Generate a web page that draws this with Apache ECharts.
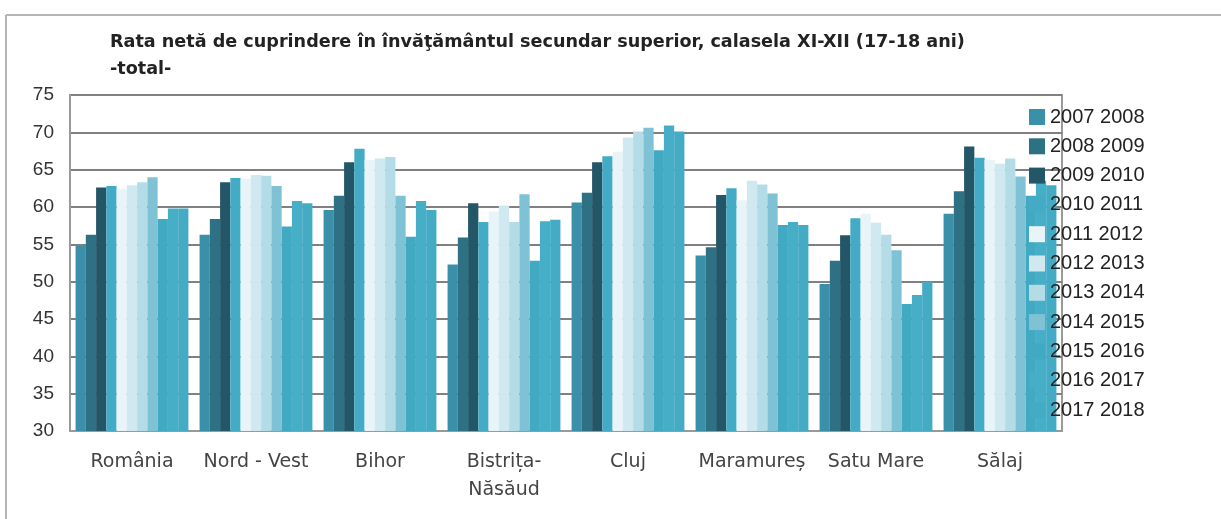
<!DOCTYPE html>
<html><head><meta charset="utf-8">
<script src="https://cdn.jsdelivr.net/npm/echarts@6/dist/echarts.min.js"></script>
<style>html,body{margin:0;padding:0;background:#fff}#c{width:1221px;height:519px}</style>
</head><body><div id="c"></div>
<script>
const categories = ['România', 'Nord - Vest', 'Bihor', 'Bistrița-\nNăsăud', 'Cluj', 'Maramureș', 'Satu Mare', 'Sălaj'];
const years = ['2007 2008','2008 2009','2009 2010','2010 2011','2011 2012','2012 2013','2013 2014','2014 2015','2015 2016','2016 2017','2017 2018'];
// values per region, one entry per school year
const romania   = [54.8, 56.3, 62.6, 62.8, 62.4, 62.9, 63.3, 64.0, 58.4, 59.8, 59.8];
const nordVest  = [56.3, 58.4, 63.3, 63.9, 63.8, 64.3, 64.2, 62.8, 57.4, 60.8, 60.5];
const bihor     = [59.6, 61.5, 66.0, 67.8, 66.3, 66.5, 66.7, 61.5, 56.0, 60.8, 59.6];
const bistrita  = [52.3, 55.9, 60.5, 58.0, 59.4, 60.2, 58.0, 61.7, 52.8, 58.1, 58.3];
const cluj      = [60.6, 61.9, 66.0, 66.8, 67.4, 69.3, 70.1, 70.6, 67.6, 70.9, 70.1];
const maramures = [53.5, 54.6, 61.6, 62.5, 60.9, 63.5, 63.0, 61.8, 57.6, 58.0, 57.6];
const satuMare  = [49.7, 52.8, 56.2, 58.5, 59.1, 57.9, 56.3, 54.2, 47.0, 48.2, 50.0];
const salaj     = [59.1, 62.1, 68.1, 66.6, 66.3, 65.8, 66.5, 64.1, 61.5, 63.5, 62.9];
const yTicks = [30, 35, 40, 45, 50, 55, 60, 65, 70, 75];

const regions = [romania, nordVest, bihor, bistrita, cluj, maramures, satuMare, salaj];
const colors = ['#3a90a8','#2e7185','#235667','#43abc5','#e8f4f8','#d0e9f0','#b3dce6','#7fc2d5','#42a9c3','#46aec7','#44abc5'];

const series = years.map((y, i) => ({
  name: y, type: 'bar', barGap: '0%', barCategoryGap: '9%',
  itemStyle: { color: colors[i] },
  data: regions.map(r => r[i])
}));

const chart = echarts.init(document.getElementById('c'), null, { renderer: 'canvas' });
chart.setOption({
  animation: false,
  backgroundColor: '#fff',
  title: {
    text: 'Rata netă de cuprindere în învăţământul secundar superior, calasela XI-XII (17-18 ani)\n-total-',
    left: 105, top: 24,
    textStyle: { fontFamily: 'DejaVu Sans', fontWeight: 'bold', fontSize: 17.6, color: '#222', lineHeight: 27 }
  },
  legend: {
    orient: 'vertical', left: 1029, top: 107, padding: 0,
    itemWidth: 16, itemHeight: 16, itemGap: 9.3,
    icon: 'rect',
    textStyle: { fontFamily: 'Liberation Sans', fontSize: 20, color: '#222' },
    data: years
  },
  grid: { left: 70, right: 159, top: 95, bottom: 88, show: true, borderColor: '#9a9a9a', borderWidth: 2 },
  xAxis: {
    type: 'category', data: categories,
    axisLine: { show: true, lineStyle: { color: '#9a9a9a', width: 2 } },
    axisTick: { show: false },
    axisLabel: { fontFamily: 'DejaVu Sans', fontSize: 19, color: '#444', margin: 17, lineHeight: 28, interval: 0 }
  },
  yAxis: {
    type: 'value', min: yTicks[0], max: yTicks[yTicks.length - 1], interval: 5,
    axisLine: { show: true, lineStyle: { color: '#9a9a9a', width: 2 } },
    axisTick: { show: false },
    axisLabel: { fontFamily: 'Liberation Sans', fontSize: 19, color: '#333', margin: 16 },
    splitLine: { lineStyle: { color: '#808080', width: 2 } }
  },
  graphic: [
    { type: 'line', shape: { x1: 6, y1: 15, x2: 1221, y2: 15 }, style: { stroke: '#b5b5b5', lineWidth: 2 } },
    { type: 'line', shape: { x1: 6, y1: 15, x2: 6, y2: 519 }, style: { stroke: '#b5b5b5', lineWidth: 2 } }
  ],
  series: series
});
</script></body></html>
